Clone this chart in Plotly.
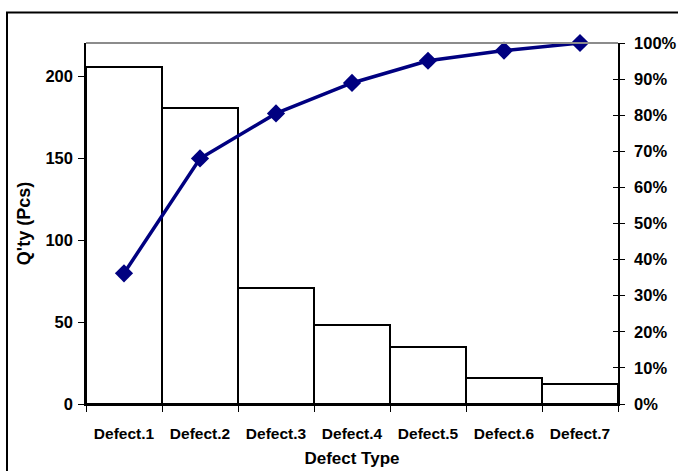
import plotly.graph_objects as go

# Defect counts per category (sorted descending for the Pareto view)
defects = ["Defect.1", "Defect.2", "Defect.3", "Defect.4", "Defect.5", "Defect.6", "Defect.7"]
counts = [206, 181, 71, 48, 35, 16, 12]
left_ticks = [0, 50, 100, 150, 200]
right_ticks = [i / 10 for i in range(11)]

# Cumulative share for the Pareto line
total = sum(counts)
cumulative = []
running = 0
for c in counts:
    running += c
    cumulative.append(running / total)

FONT = "Liberation Sans, Arial, Helvetica, sans-serif"

fig = go.Figure()
fig.add_trace(go.Bar(
    x=defects, y=counts,
    marker=dict(color="white", line=dict(color="black", width=2)),
    yaxis="y", showlegend=False,
))
fig.add_trace(go.Scatter(
    x=defects, y=cumulative, yaxis="y2", mode="lines+markers",
    line=dict(color="#000080", width=3.5),
    marker=dict(symbol="diamond", size=14, color="#000080"),
    cliponaxis=False, showlegend=False,
))

L, R, T, B = 86, 60, 43, 67
W, H = 678, 471
pw, ph = W - L - R, H - T - B

fig.update_layout(
    width=W, height=H,
    margin=dict(l=L, r=R, t=T, b=B),
    paper_bgcolor="white", plot_bgcolor="white",
    bargap=0,
    font=dict(family=FONT, size=16, color="black"),
    xaxis=dict(
        automargin=False,
        showline=True, linecolor="black", linewidth=2,
        ticks="outside", ticklen=6, tickcolor="black", tickwidth=1,
        tickson="boundaries", showgrid=False,
        ticklabelstandoff=14,
        tickfont=dict(family=FONT, size=15.5, weight="bold"),
        title=dict(text="<b>Defect Type</b>", standoff=12,
                   font=dict(family=FONT, size=17)),
    ),
    yaxis=dict(
        automargin=False,
        range=[0, 220.6], tickvals=left_ticks,
        showline=True, linecolor="black", linewidth=1.5,
        ticks="outside", ticklen=6, tickcolor="black",
        showgrid=False, zeroline=False,
        ticklabelstandoff=2,
        tickfont=dict(family=FONT, size=16.5, weight="bold"),
        title=dict(text="<b>Q'ty (Pcs)</b>", standoff=10,
                   font=dict(family=FONT, size=18)),
    ),
    yaxis2=dict(
        automargin=False,
        overlaying="y", side="right", anchor="x",
        range=[0, 1], tickvals=right_ticks, tickformat=".0%",
        showline=True, linecolor="black", linewidth=1.5,
        ticks="outside", ticklen=5, tickcolor="black",
        showgrid=False, zeroline=False,
        ticklabelstandoff=6,
        tickfont=dict(family=FONT, size=16.5, weight="bold"),
    ),
    yaxis3=dict(
        automargin=False,
        overlaying="y", side="right", anchor="x",
        range=[0, 1], tickvals=right_ticks,
        ticks="inside", ticklen=5, tickcolor="black",
        showticklabels=False, showline=False,
        showgrid=False, zeroline=False,
    ),
    shapes=[
        # grey top edge of the plot area
        dict(type="line", xref="paper", yref="paper", x0=0, x1=1, y0=1, y1=1,
             line=dict(color="#8c8c8c", width=2)),
        # chart area frame
        dict(type="rect", xref="paper", yref="paper",
             x0=(7 - L) / pw, x1=1.3, y0=-0.4, y1=(H - B - 12.5) / ph,
             line=dict(color="black", width=2), layer="above"),
    ],
)
# invisible trace to activate the crossing-tick axis
fig.add_trace(go.Scatter(x=[defects[0]], y=[0], yaxis="y3", mode="markers",
                         marker=dict(opacity=0), showlegend=False, hoverinfo="skip"))

fig.write_html("out.html")
